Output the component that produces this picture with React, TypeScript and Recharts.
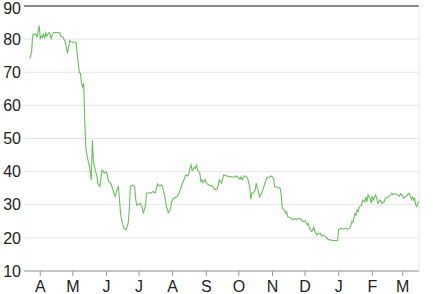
import { LineChart, Line, XAxis, YAxis, CartesianGrid, ReferenceLine } from "recharts";

// day offsets from 1 April
const days = [
  -10, -9, -8, -7, -6, -4, -3, -2, -1, 0, 1, 2, 3, 4, 5, 6, 8, 9, 10, 11, 12, 15, 18, 19, 21, 23, 24, 25, 26, 27, 28,
  33, 34, 35, 36, 37, 38, 39, 40, 41, 42, 43, 44, 45, 46, 47, 48, 49, 50, 51, 52, 53, 54, 55, 56, 57, 58, 59, 61, 63,
  65, 66, 67, 69, 71, 72, 73, 74, 75, 77, 79, 81, 82, 83, 85, 87, 88, 89, 92, 94, 95, 97, 98, 101, 102, 104, 106, 108,
  110, 112, 113, 115, 116, 118, 120, 121, 123, 126, 128, 130, 132, 133, 134, 136, 137, 138, 139, 140, 142, 143, 144,
  145, 147, 148, 149, 150, 152, 153, 155, 158, 159, 161, 163, 164, 165, 167, 169, 172, 175, 178, 181, 182, 184, 185,
  186, 188, 190, 191, 193, 194, 195, 196, 198, 199, 200, 201, 202, 204, 205, 207, 209, 211, 213, 215, 216, 218, 221,
  222, 223, 225, 226, 227, 228, 231, 233, 234, 236, 239, 241, 242, 244, 246, 247, 248, 250, 251, 252, 253, 255, 256,
  258, 259, 261, 263, 265, 267, 270, 274, 275, 277, 279, 281, 283, 285, 286, 287, 288, 290, 291, 292, 293, 294, 296,
  297, 299, 300, 301, 302, 304, 305, 306, 307, 309, 310, 311, 313, 315, 317, 318, 320, 322, 324, 325, 327, 329, 331,
  332, 334, 335, 336, 337, 339, 340, 342, 343, 344, 345, 346, 347, 348, 349,
];
const prices = [
  74.2, 74.7, 76.2, 81.2, 81.5, 81.5, 80.7, 82.2, 84.1, 80.2, 80.9, 80.5, 81.7, 80.2, 81.9, 80.9, 82, 81.7, 79.9, 81.2,
  82, 82, 81.9, 80.9, 80.5, 79.2, 77.7, 75.7, 77.2, 79.5, 79.2,
  79, 75.7, 72.7, 69.9, 69.7, 66.7, 65.5, 66.7, 55, 47.1, 45, 43.5, 42, 40, 37.5, 49.5, 43, 41.5, 40, 39, 36.5, 36,
  35.5, 38.5, 40.5, 40, 39.5, 40, 37,
  36.5, 35.5, 34.4, 32.4, 35, 35.5, 31.4, 27.4, 25.4, 22.9, 22.4, 24.4, 28.4, 35.5, 36, 35.5, 31.4, 29.9, 30.4, 29.2,
  27.4, 29.9, 33.5, 33.6, 33.5, 34, 33.5, 36.3,
  35.7, 36, 35, 32, 29.9, 27.6, 28.6, 30.9, 32, 32.4, 33.5, 35.5, 37.3, 38, 39, 38.7, 39.5, 41, 42, 40.3, 41.3, 41, 42,
  40.5, 39.5, 37, 37.5, 36.7, 37.7, 36.5, 36, 35.7, 35.5, 34.5, 34.7, 36, 37.5, 36.5, 39, 38.7, 38.5, 38.3, 38.7, 38.3,
  37.7, 38.5,
  37.5, 38.7, 38.5, 38, 35.5, 31.6, 33.5, 33.5, 34.4, 36.5, 35, 34, 32.4, 33.5, 34.4, 36.5, 38.3, 38.3, 38.7, 38, 35.5,
  35.3, 35,
  33, 28.9, 28.4, 27.4, 27.9, 26.4, 25.9, 25.4, 25.9, 25.6, 25.9, 25.4, 24.9, 25.2, 23.9, 24.4, 22.9, 21.9, 22.4, 23.2,
  21.9, 20.9, 21.4,
  21.4, 20.6, 20.8, 20.4, 19.6, 19.4, 19.2, 19.2, 22.6, 22.9, 22.6, 22.9, 22.6, 22.9, 23.4, 24.9, 24.6, 27.4, 26.9, 28.4,
  27.9, 29.4, 29.9,
  31.4, 30.9, 32.4, 30.9, 33, 32, 30.4, 32.6, 31.4, 33, 32, 30.4, 31.4, 30.4, 30.9, 32, 32.3, 32.6, 33.5, 33, 33.3, 33,
  32.6,
  33.3, 32.6, 32, 32.4, 32.4, 33.3, 33.5, 31.6, 32.3, 31.4, 32, 29.9, 29.4, 30.7, 31,
];

const monthStarts = [0, 30, 61, 91, 122, 153, 183, 214, 244, 275, 306, 334];
const monthLabels = ["A", "M", "J", "J", "A", "S", "O", "N", "D", "J", "F", "M"];
const yTicks = [10, 20, 30, 40, 50, 60, 70, 80, 90];

const data = days.map((day, i) => ({ day, price: prices[i] }));

// keep the top label inside the picture
const YTick = ({ x, y, payload }: any) => (
  <text x={x} y={Math.max(y, 8)} dy="0.355em" textAnchor="end" fill="#222" fontSize={16}>
    {payload.value}
  </text>
);

export default function App() {
  return (
    <div style={{ position: "absolute", left: 0, top: 0, fontFamily: '"Liberation Sans", Arial, sans-serif' }}>
      <LineChart width={433} height={294} data={data} margin={{ top: 6, right: 14, bottom: 0, left: 0 }}>
        <CartesianGrid vertical={false} stroke="#e6e6e6" />
        <XAxis
          type="number"
          dataKey="day"
          domain={[-15, 349]}
          ticks={monthStarts}
          interval={0}
          tickFormatter={(v) => monthLabels[monthStarts.indexOf(v)]}
          height={23}
          tickSize={5}
          tickMargin={5}
          stroke="#999"
          tick={{ fill: "#222", fontSize: 16 }}
        />
        <YAxis
          type="number"
          domain={[10, 90]}
          ticks={yTicks}
          interval={0}
          width={24}
          axisLine={false}
          tickLine={false}
          tickSize={0}
          tickMargin={3}
          tick={<YTick />}
        />
        <ReferenceLine y={90} stroke="#222" />
        <ReferenceLine x={349} stroke="#e6e6e6" />
        <Line type="linear" dataKey="price" stroke="#6abf5e" strokeWidth={1.1} dot={false} isAnimationActive={false} />
      </LineChart>
    </div>
  );
}
